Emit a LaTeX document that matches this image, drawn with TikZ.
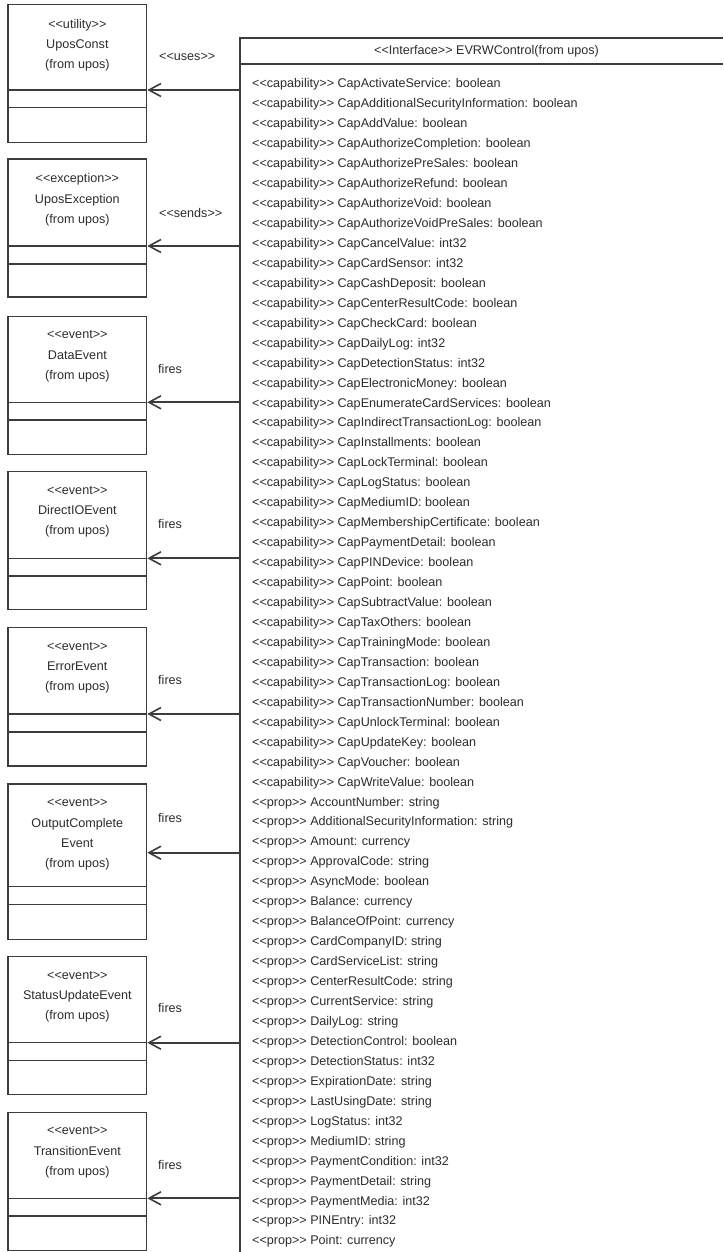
\documentclass[tikz,border=0pt]{standalone}
\usepackage{fontspec}
\setmainfont{Liberation Sans}[Ligatures=TeXOff]
\usetikzlibrary{arrows.meta}
\newcommand\st[1]{<\kern0pt<#1>\kern0pt>}
\definecolor{ink}{RGB}{45,45,45}
\definecolor{edge}{RGB}{60,60,60}
\tikzset{
  txt/.style={inner sep=0pt, text=ink, font=\fontsize{12.6}{20.3}\selectfont},
  row/.style={txt, anchor=base west},
  cls/.style={draw=edge, line width=1.2pt, minimum width=138.7pt, inner sep=0pt},
  clstext/.style={txt, align=center, anchor=north},
  sepline/.style={draw=edge, line width=1.2pt},
  arr/.style={draw=edge, line width=1.8pt, -{Straight Barb[length=12pt,width=13pt,line width=1.6pt]}},
  lab/.style={txt, anchor=west}
}
\begin{document}
\begin{tikzpicture}[x=1pt,y=-1pt]
\useasboundingbox[fill=white] (0,0) rectangle (723,1252);

% interface box (left part visible)
\draw[sepline] (723,38) -- (240,38) -- (240,1252);
\draw[sepline] (240,64) -- (723,64);
\node[txt] (hdr) at (486.5,51.5) {\st{Interface} EVRWControl(from upos)};

% left classes: name, top, sep1, sep2, bottom
\node[cls, minimum height=138.4pt] (b1) at (77.35,73.5) {};
\node[cls, minimum height=138pt]   (b2) at (77.35,228) {};
\node[cls, minimum height=137.6pt] (b3) at (77.35,385.5) {};
\node[cls, minimum height=137.6pt] (b4) at (77.35,540.5) {};
\node[cls, minimum height=138.3pt] (b5) at (77.35,696.85) {};
\node[cls, minimum height=155.3pt] (b6) at (77.35,861.65) {};
\node[cls, minimum height=137.6pt] (b7) at (77.35,1025.5) {};
\node[cls, minimum height=138.4pt] (b8) at (77.35,1181.5) {};

\foreach \b/\sa/\sb in {b1/90/107.7, b2/246/264, b3/402.3/420, b4/558.3/576,
  b5/714/732, b6/886.7/904.3, b7/1042.7/1060.7, b8/1198.3/1216}{
  \draw[sepline] (\b.west |- 0,\sa) -- (\b.east |- 0,\sa);
  \draw[sepline] (\b.west |- 0,\sb) -- (\b.east |- 0,\sb);
}

\node[clstext] (t1) at (77.35,18.7) {\st{utility}\\UposConst\\(from upos)};
\node[clstext] (t2) at (77.35,173.4) {\st{exception}\\UposException\\(from upos)};
\node[clstext] (t3) at (77.35,330.5) {\st{event}\\DataEvent\\(from upos)};
\node[clstext] (t4) at (77.35,486) {\st{event}\\DirectIOEvent\\(from upos)};
\node[clstext] (t5) at (77.35,642) {\st{event}\\ErrorEvent\\(from upos)};
\node[clstext] (t6) at (77.35,798.5) {\st{event}\\OutputComplete\\Event\\(from upos)};
\node[clstext] (t7) at (77.35,971) {\st{event}\\StatusUpdateEvent\\(from upos)};
\node[clstext] (t8) at (77.35,1126.5) {\st{event}\\TransitionEvent\\(from upos)};

% connectors
\coordinate (s1) at (240,90);
\coordinate (s2) at (240,246);
\coordinate (s3) at (240,402.3);
\coordinate (s4) at (240,558.3);
\coordinate (s5) at (240,714);
\coordinate (s6) at (240,852.7);
\coordinate (s7) at (240,1042.7);
\coordinate (s8) at (240,1198.3);
\foreach \i in {1,...,8}{
  \draw[arr] (s\i) -- (s\i -| b\i.east);
}

\node[lab] (l1) at (159,57) {\st{uses}};
\node[lab] (l2) at (159,213) {\st{sends}};
\node[lab] (l3) at (158,369) {fires};
\node[lab] (l4) at (158,524.3) {fires};
\node[lab] (l5) at (158,680) {fires};
\node[lab] (l6) at (158,818.3) {fires};
\node[lab] (l7) at (158,1008.3) {fires};
\node[lab] (l8) at (158,1165) {fires};

% attributes
\foreach \t [count=\i] in {CapActivateService: boolean, CapAdditionalSecurityInformation: boolean,
 CapAddValue: boolean, CapAuthorizeCompletion: boolean, CapAuthorizePreSales: boolean,
 CapAuthorizeRefund: boolean, CapAuthorizeVoid: boolean, CapAuthorizeVoidPreSales: boolean,
 CapCancelValue: int32, CapCardSensor: int32, CapCashDeposit: boolean, CapCenterResultCode: boolean,
 CapCheckCard: boolean, CapDailyLog: int32, CapDetectionStatus: int32, CapElectronicMoney: boolean,
 CapEnumerateCardServices: boolean, CapIndirectTransactionLog: boolean, CapInstallments: boolean,
 CapLockTerminal: boolean, CapLogStatus: boolean, CapMediumID: boolean, CapMembershipCertificate: boolean,
 CapPaymentDetail: boolean, CapPINDevice: boolean, CapPoint: boolean, CapSubtractValue: boolean,
 CapTaxOthers: boolean, CapTrainingMode: boolean, CapTransaction: boolean, CapTransactionLog: boolean,
 CapTransactionNumber: boolean, CapUnlockTerminal: boolean, CapUpdateKey: boolean, CapVoucher: boolean,
 CapWriteValue: boolean}{
  \node[row] (cap\i) at (252,{87.8+(\i-1)*19.95}) {\st{capability} \t};
}
\foreach \t [count=\i] in {AccountNumber: string, AdditionalSecurityInformation: string,
 Amount: currency, ApprovalCode: string, AsyncMode: boolean, Balance: currency,
 BalanceOfPoint: currency, CardCompanyID: string, CardServiceList: string, CenterResultCode: string,
 CurrentService: string, DailyLog: string, DetectionControl: boolean, DetectionStatus: int32,
 ExpirationDate: string, LastUsingDate: string, LogStatus: int32, MediumID: string,
 PaymentCondition: int32, PaymentDetail: string, PaymentMedia: int32, PINEntry: int32,
 Point: currency}{
  \node[row] (prop\i) at (252,{87.8+(\i+35)*19.95}) {\st{prop} \t};
}
\end{tikzpicture}
\end{document}
